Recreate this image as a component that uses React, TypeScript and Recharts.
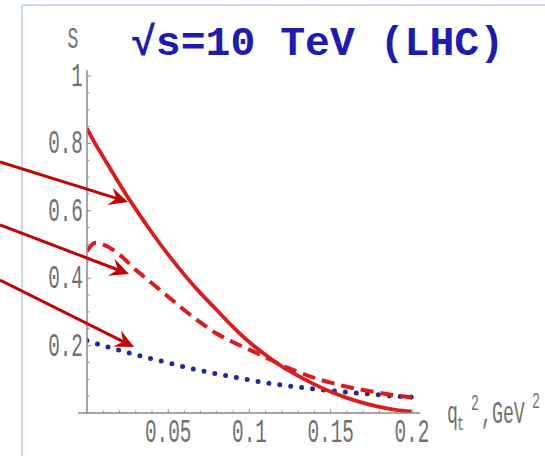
import { LineChart, Line, XAxis, YAxis } from 'recharts'

// q_t^2 grid (GeV^2) and the three S curves
const QT2 = [0, 0.005, 0.01, 0.02, 0.03, 0.04, 0.05, 0.06, 0.07, 0.08, 0.09, 0.1, 0.11, 0.12, 0.13, 0.14, 0.15, 0.16, 0.17, 0.18, 0.19, 0.2]
const S_SOLID = [0.845, 0.8, 0.76, 0.68, 0.605, 0.535, 0.47, 0.41, 0.355, 0.305, 0.255, 0.21, 0.172, 0.138, 0.11, 0.085, 0.063, 0.045, 0.03, 0.018, 0.009, 0.004]
const S_DASHED = [0.48, 0.505, 0.5, 0.47, 0.425, 0.385, 0.345, 0.305, 0.268, 0.235, 0.21, 0.188, 0.165, 0.142, 0.122, 0.104, 0.09, 0.078, 0.068, 0.06, 0.052, 0.046]
const S_DOTTED = [0.215, 0.207, 0.2, 0.186, 0.173, 0.161, 0.149, 0.137, 0.126, 0.116, 0.107, 0.098, 0.09, 0.083, 0.077, 0.071, 0.066, 0.062, 0.058, 0.054, 0.05, 0.047]

const X_TICKS = [0.01, 0.02, 0.03, 0.04, 0.05, 0.06, 0.07, 0.08, 0.09, 0.1, 0.11, 0.12, 0.13, 0.14, 0.15, 0.16, 0.17, 0.18, 0.19, 0.2]
const X_LABELS = [0.05, 0.1, 0.15, 0.2]
const Y_TICKS = [0.05, 0.1, 0.15, 0.2, 0.25, 0.3, 0.35, 0.4, 0.45, 0.5, 0.55, 0.6, 0.65, 0.7, 0.75, 0.8, 0.85, 0.9, 0.95, 1]
const Y_LABELS = [0.2, 0.4, 0.6, 0.8, 1]

const TITLE = '√s=10 TeV (LHC)'

const data = QT2.map((q, i) => ({ q, solid: S_SOLID[i], dashed: S_DASHED[i], dotted: S_DOTTED[i] }))

const GRAY = '#707070'
const AXIS = '#8a8a8a'
const FONT = '"Liberation Mono", "Courier New", monospace'

function YTick(props: any) {
  const { x, y, payload } = props
  const major = Y_LABELS.includes(payload.value)
  return (
    <g>
      <line x1={x} x2={x + (major ? 4 : 2.5)} y1={y} y2={y} stroke={AXIS} strokeWidth={1} />
      {major && (
        <text transform={`translate(${x - 4},${y + 10}) scale(0.57,1)`} textAnchor="end"
          fontFamily={FONT} fontSize={34} fill={GRAY}>{String(payload.value)}</text>
      )}
    </g>
  )
}

function XTick(props: any) {
  const { x, y, payload } = props
  const major = X_LABELS.includes(payload.value)
  return (
    <g>
      <line x1={x} x2={x} y1={y} y2={y - (major ? 4 : 2.5)} stroke={AXIS} strokeWidth={1} />
      {major && (
        <text transform={`translate(${x},${y + 29}) scale(0.57,1)`} textAnchor="middle"
          fontFamily={FONT} fontSize={34} fill={GRAY}>{String(payload.value)}</text>
      )}
    </g>
  )
}

// arrow from (x1,y1) to tip (x2,y2) with barbed head
function Arrow({ x1, y1, x2, y2 }: { x1: number; y1: number; x2: number; y2: number }) {
  const dx = x2 - x1, dy = y2 - y1
  const len = Math.hypot(dx, dy)
  const ux = dx / len, uy = dy / len
  const px = -uy, py = ux
  const L = 19, W = 9, N = 12
  const head = [
    [x2, y2],
    [x2 - ux * L + px * W, y2 - uy * L + py * W],
    [x2 - ux * N, y2 - uy * N],
    [x2 - ux * L - px * W, y2 - uy * L - py * W],
  ].map(p => p.join(',')).join(' ')
  return (
    <g>
      <line x1={x1} y1={y1} x2={x2 - ux * N} y2={y2 - uy * N} stroke="#c40000" strokeWidth={3} />
      <polygon points={head} fill="#c40000" />
    </g>
  )
}

export default function App() {
  return (
    <div style={{ position: 'absolute', left: 0, top: 0, width: 545, height: 456, background: '#fff' }}>
      <LineChart width={545} height={456} data={data} margin={{ top: 70, right: 125, bottom: 13, left: 27 }}>
        <XAxis
          dataKey="q"
          type="number"
          domain={[0, 0.205]}
          allowDataOverflow
          ticks={X_TICKS}
          interval={0}
          tick={<XTick />}
          tickLine={false}
          tickSize={0}
          tickMargin={0}
          height={30}
          axisLine={{ stroke: AXIS, strokeWidth: 1.5 }}
        />
        <YAxis
          type="number"
          domain={[0, 1.018]}
          allowDataOverflow
          ticks={Y_TICKS}
          interval={0}
          tick={<YTick />}
          tickLine={false}
          tickSize={0}
          tickMargin={0}
          width={60}
          axisLine={{ stroke: AXIS, strokeWidth: 1.5 }}
        />
        <Line type="monotone" dataKey="dotted" stroke="#26269c" strokeWidth={5} strokeDasharray="0 11"
          strokeLinecap="round" dot={false} isAnimationActive={false} />
        <Line type="monotone" dataKey="dashed" stroke="#dc1c1c" strokeWidth={4} strokeDasharray="13 7"
          dot={false} isAnimationActive={false} />
        <Line type="monotone" dataKey="solid" stroke="#dc1c1c" strokeWidth={3.8}
          dot={false} isAnimationActive={false} />
      </LineChart>

      <svg width={545} height={456} style={{ position: 'absolute', left: 0, top: 0, pointerEvents: 'none' }}>
        {/* slide frame */}
        <line x1={22} y1={5} x2={545} y2={5} stroke="#c9d8f0" strokeWidth={2} />
        <line x1={22} y1={5} x2={22} y2={456} stroke="#c9d8f0" strokeWidth={2} />
        {/* x axis stub left of the origin */}
        <line x1={78} y1={413} x2={87} y2={413} stroke={AXIS} strokeWidth={1.5} />

        <text x={131} y={55} fontFamily={FONT} fontWeight="bold" fontSize={41} fill="#1c1cb2"
          textLength={373} lengthAdjust="spacingAndGlyphs">{TITLE}</text>

        <text transform="translate(73,48) scale(0.6,1)" textAnchor="middle" fontFamily={FONT}
          fontSize={30} fill={GRAY}>S</text>

        <g fontFamily={FONT} fill={GRAY}>
          <text transform="translate(447,423) scale(0.57,1)" fontSize={32}>q</text>
          <text transform="translate(457,430) scale(0.6,1)" fontSize={20}>t</text>
          <text transform="translate(471,410) scale(0.6,1)" fontSize={22}>2</text>
          <text transform="translate(481,423) scale(0.57,1)" fontSize={32}>,GeV</text>
          <text transform="translate(532,408) scale(0.6,1)" fontSize={22}>2</text>
        </g>

        <Arrow x1={0} y1={162} x2={128} y2={202} />
        <Arrow x1={0} y1={225} x2={129} y2={274} />
        <Arrow x1={0} y1={280} x2={134} y2={347} />
      </svg>
    </div>
  )
}
